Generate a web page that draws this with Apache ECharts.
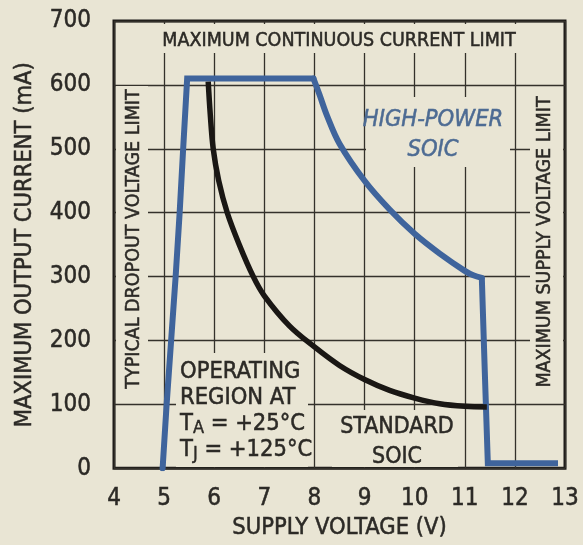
<!DOCTYPE html>
<html>
<head>
<meta charset="utf-8">
<script src="https://cdn.jsdelivr.net/npm/echarts@6/dist/echarts.min.js"></script>
<style>
  html, body { margin: 0; padding: 0; background: #e9e5d4; }
  #chart { width: 583px; height: 545px; }
</style>
</head>
<body>
<div id="chart"></div>
<script>
var BG = "#e9e5d4";
var INK = "#2c2a26";
var GRIDC = "#34312b";
var BLUE = "#3f649c";
var BLUE_TXT = "#4d6b93";
var FONT = "'Liberation Sans Narrow','DejaVu Sans Condensed','Roboto Condensed',sans-serif";

// high-power SOIC (V, mA)
var riseV = [4.97, 5.05, 5.14, 5.23, 5.31, 5.38, 5.46, 7.98];
var riseI = [0, 100, 200, 300, 400, 500, 610, 610];
var curveV = [7.98, 8.10, 8.25, 8.50, 9.0, 9.5, 10.0, 10.5, 11.0, 11.17, 11.34];
var curveI = [610, 585, 552, 508, 450, 405, 367, 336, 309, 302, 298];
var dropV = [11.34, 11.40, 11.46, 12.86];
var dropI = [298, 150, 8, 8];

// standard SOIC
var stdV = [5.88, 5.92, 5.98, 6.09, 6.26, 6.50, 6.78, 7.0, 7.5, 8.0, 8.5, 9.0, 9.5, 10.0, 10.5, 11.0, 11.44];
var stdI = [605, 555, 500, 450, 400, 350, 300, 270, 223, 190, 161, 139, 122, 110, 101, 97, 96];

function pairs(xs, ys) {
  return xs.map(function(x, i) { return [x, ys[i]]; });
}

function cover(x, y, w, h) {
  return { type: "rect", z: 1, silent: true, shape: { x: x, y: y, width: w, height: h }, style: { fill: BG } };
}

function label(x, y, text, extra) {
  var el = { type: "text", z: 5, silent: true, x: x, y: y,
    style: { text: text, fill: INK, stroke: INK, lineWidth: 0.5, font: "19.5px " + FONT,
             textAlign: "center", textVerticalAlign: "middle" } };
  if (extra) {
    Object.keys(extra).forEach(function(k) {
      if (k === "style") Object.assign(el.style, extra.style); else el[k] = extra[k];
    });
  }
  return el;
}

var chart = echarts.init(document.getElementById("chart"));

var axisText = { color: INK, fontSize: 24, fontFamily: FONT, textBorderColor: INK, textBorderWidth: 0.5 };
var nameText = { color: INK, fontSize: 23.5, fontFamily: FONT, textBorderColor: INK, textBorderWidth: 0.5 };

chart.setOption({
  backgroundColor: BG,
  animation: false,
  grid: { left: 114, right: 18, top: 21, bottom: 75, show: true, borderColor: "#1d1b18", borderWidth: 3, backgroundColor: "transparent" },
  xAxis: {
    type: "value", min: 4, max: 13, interval: 1,
    axisLine: { show: false }, axisTick: { show: false },
    splitLine: { show: true, lineStyle: { color: GRIDC, width: 1.3 } },
    axisLabel: Object.assign({ margin: 18 }, axisText),
    name: "SUPPLY VOLTAGE (V)", nameLocation: "middle", nameGap: 46,
    nameTextStyle: nameText
  },
  yAxis: {
    type: "value", min: 0, max: 700, interval: 100,
    axisLine: { show: false }, axisTick: { show: false },
    splitLine: { show: true, lineStyle: { color: GRIDC, width: 1.3 } },
    axisLabel: Object.assign({ margin: 23 }, axisText),
    name: "MAXIMUM OUTPUT CURRENT (mA)", nameLocation: "middle", nameGap: 77,
    nameTextStyle: nameText
  },
  series: [
    { type: "line", symbol: "none", data: pairs(riseV, riseI),
      lineStyle: { color: BLUE, width: 6, cap: "round", join: "miter" } },
    { type: "line", symbol: "none", smooth: 0.35, data: pairs(curveV, curveI),
      lineStyle: { color: BLUE, width: 6, cap: "round" } },
    { type: "line", symbol: "none", data: pairs(dropV, dropI),
      lineStyle: { color: BLUE, width: 6, cap: "butt", join: "miter" } },
    { type: "line", symbol: "none", smooth: 0.35, data: pairs(stdV, stdI),
      lineStyle: { color: "#1a1714", width: 5.5, cap: "butt" } }
  ],
  graphic: [
    cover(116, 24, 447, 29),
    cover(116, 86, 32, 310),
    cover(530, 88, 33, 308),
    cover(366, 97, 144, 70),
    cover(176, 353, 132, 114),
    cover(332, 410, 126, 57),
    label(339, 41, "MAXIMUM CONTINUOUS CURRENT LIMIT"),
    label(134, 239, "TYPICAL DROPOUT VOLTAGE LIMIT", { rotation: Math.PI / 2 }),
    label(545, 242, "MAXIMUM SUPPLY VOLTAGE LIMIT", { rotation: Math.PI / 2 }),
    label(433, 135, "HIGH-POWER\nSOIC", { style: { fill: BLUE_TXT, stroke: BLUE_TXT, font: "italic 23.5px " + FONT, lineHeight: 30 } }),
    label(397, 442, "STANDARD\nSOIC", { style: { font: "23px " + FONT, lineHeight: 30 } }),
    { type: "text", z: 5, silent: true, x: 180, y: 359,
      style: {
        text: "{n|OPERATING}\n{n|REGION AT}\n{n|T}{s|A}{n| = +25°C}\n{n|T}{s|J}{n| = +125°C}",
        textAlign: "left", textVerticalAlign: "top",
        rich: {
          n: { fill: INK, stroke: INK, lineWidth: 0.5, fontSize: 23.5, fontFamily: FONT, lineHeight: 26 },
          s: { fill: INK, stroke: INK, lineWidth: 0.4, fontSize: 18, fontFamily: FONT, lineHeight: 12, verticalAlign: "bottom" }
        }
      } }
  ]
});
</script>
</body>
</html>
